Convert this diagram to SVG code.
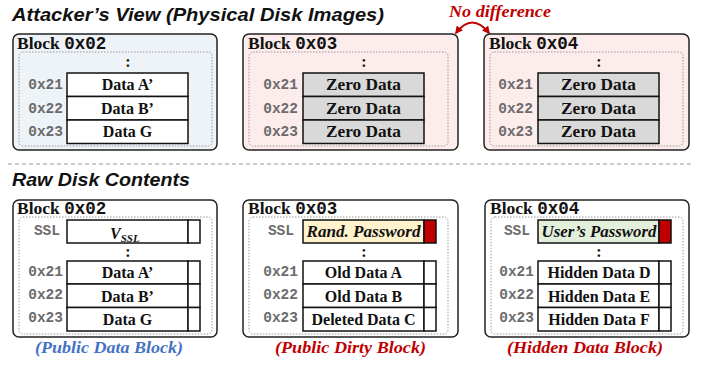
<svg xmlns="http://www.w3.org/2000/svg" width="701" height="371" viewBox="0 0 701 371">
<style>
.title{font-family:"Liberation Sans","Open Sans",sans-serif;font-weight:bold;font-style:italic;font-size:19px;fill:#111}
.outer{stroke:#222;stroke-width:1.5}
.inner{fill:none;stroke:#999;stroke-width:1;stroke-dasharray:1.5 1.5}
.blk{font-family:"Liberation Serif",serif;font-weight:bold;font-size:17.5px;fill:#111}
.mono{font-family:"Liberation Mono","DejaVu Sans Mono",monospace;font-weight:bold}
.lbl{font-family:"Liberation Mono","DejaVu Sans Mono",monospace;font-weight:bold;font-size:14.5px;fill:#6b6b6b;text-anchor:end}
.row{fill:#fff;stroke:#111;stroke-width:1.5}
.zero{fill:#d9d9d9;stroke:#111;stroke-width:1.5}
.dt{font-family:"Liberation Serif",serif;font-weight:bold;font-size:16px;fill:#111;text-anchor:middle}
.it{font-style:italic}
.col{font-family:"Liberation Serif",serif;font-weight:bold;font-size:16px;fill:#111;text-anchor:middle}
.cap{font-family:"Liberation Serif",serif;font-weight:bold;font-style:italic;font-size:17px;text-anchor:middle}
.red{fill:#c00000}
</style>
<defs>
<marker id="ah" viewBox="0 0 10 10" refX="8" refY="5" markerWidth="4" markerHeight="4" orient="auto-start-reverse">
<path d="M0,0 L10,5 L0,10 z" fill="#c00000"/>
</marker>
</defs>

<text class="title" x="12" y="21" textLength="372" lengthAdjust="spacingAndGlyphs">Attacker’s View (Physical Disk Images)</text>
<text x="500" y="17" class="cap red" textLength="102" lengthAdjust="spacingAndGlyphs">No difference</text>

<g id="connectors">
<path d="M456,33 Q472,12 489,33" fill="none" stroke="#c00000" stroke-width="2" marker-start="url(#ah)" marker-end="url(#ah)"/>
</g>

<g id="top-block-02">
<rect class="outer" x="13" y="34" width="204" height="116" rx="6" fill="#eef3f8"/>
<rect class="inner" x="19" y="52" width="193" height="94" rx="4"/>
<text class="blk" x="17" y="49">Block <tspan class="mono">0x02</tspan></text>
<text class="col" x="128" y="67">:</text>
<rect class="row" x="67" y="73" width="121" height="23.5"/>
<rect class="row" x="67" y="96.5" width="121" height="23.5"/>
<rect class="row" x="67" y="120" width="121" height="23.5"/>
<text class="lbl" x="63" y="89">0x21</text>
<text class="lbl" x="63" y="112.5">0x22</text>
<text class="lbl" x="63" y="136">0x23</text>
<text class="dt" x="127.5" y="90">Data A’</text>
<text class="dt" x="127.5" y="113.5">Data B’</text>
<text class="dt" x="127.5" y="137">Data G</text>
</g>

<g id="top-block-03">
<rect class="outer" x="243" y="34" width="215" height="116" rx="6" fill="#fdecec"/>
<rect class="inner" x="249" y="52" width="199" height="94" rx="4"/>
<text class="blk" x="248" y="49">Block <tspan class="mono">0x03</tspan></text>
<text class="col" x="364" y="67">:</text>
<rect class="zero" x="303" y="73" width="121" height="23.5"/>
<rect class="zero" x="303" y="96.5" width="121" height="23.5"/>
<rect class="zero" x="303" y="120" width="121" height="23.5"/>
<text class="lbl" x="298" y="89">0x21</text>
<text class="lbl" x="298" y="112.5">0x22</text>
<text class="lbl" x="298" y="136">0x23</text>
<text class="dt" x="363.5" y="90" textLength="75" lengthAdjust="spacingAndGlyphs">Zero Data</text>
<text class="dt" x="363.5" y="113.5" textLength="75" lengthAdjust="spacingAndGlyphs">Zero Data</text>
<text class="dt" x="363.5" y="137" textLength="75" lengthAdjust="spacingAndGlyphs">Zero Data</text>
</g>

<g id="top-block-04">
<rect class="outer" x="484" y="34" width="205" height="116" rx="6" fill="#fdecec"/>
<rect class="inner" x="490" y="52" width="193" height="94" rx="4"/>
<text class="blk" x="489" y="49">Block <tspan class="mono">0x04</tspan></text>
<text class="col" x="599" y="67">:</text>
<rect class="zero" x="538" y="73" width="121" height="23.5"/>
<rect class="zero" x="538" y="96.5" width="121" height="23.5"/>
<rect class="zero" x="538" y="120" width="121" height="23.5"/>
<text class="lbl" x="533" y="89">0x21</text>
<text class="lbl" x="533" y="112.5">0x22</text>
<text class="lbl" x="533" y="136">0x23</text>
<text class="dt" x="598.5" y="90" textLength="75" lengthAdjust="spacingAndGlyphs">Zero Data</text>
<text class="dt" x="598.5" y="113.5" textLength="75" lengthAdjust="spacingAndGlyphs">Zero Data</text>
<text class="dt" x="598.5" y="137" textLength="75" lengthAdjust="spacingAndGlyphs">Zero Data</text>
</g>

<line x1="8" y1="164" x2="694" y2="164" stroke="#999" stroke-width="1.2" stroke-dasharray="4 3"/>
<text class="title" x="12" y="186" textLength="178" lengthAdjust="spacingAndGlyphs">Raw Disk Contents</text>

<g id="raw-block-02">
<rect class="outer" x="13" y="200" width="204" height="137" rx="6" fill="#fff"/>
<rect class="inner" x="19" y="217" width="193" height="117" rx="4"/>
<text class="blk" x="17" y="214">Block <tspan class="mono">0x02</tspan></text>
<rect class="row" x="67" y="220" width="121" height="23"/>
<rect class="row" x="188" y="220" width="12" height="23"/>
<text class="lbl" x="60" y="235">SSL</text>
<text x="110" y="239" class="dt it" style="text-anchor:start">V<tspan font-size="11" dy="3">SSL</tspan></text>
<text class="col" x="128" y="257">:</text>
<rect class="row" x="67" y="261" width="121" height="23"/>
<rect class="row" x="188" y="261" width="12" height="23"/>
<rect class="row" x="67" y="284" width="121" height="23.5"/>
<rect class="row" x="188" y="284" width="12" height="23.5"/>
<rect class="row" x="67" y="307.5" width="121" height="23.5"/>
<rect class="row" x="188" y="307.5" width="12" height="23.5"/>
<text class="lbl" x="63" y="276">0x21</text>
<text class="lbl" x="63" y="299">0x22</text>
<text class="lbl" x="63" y="322">0x23</text>
<text class="dt" x="127.5" y="278">Data A’</text>
<text class="dt" x="127.5" y="301.5">Data B’</text>
<text class="dt" x="127.5" y="325">Data G</text>
<text class="cap" x="109" y="353" fill="#4472c4" textLength="148" lengthAdjust="spacingAndGlyphs">(Public Data Block)</text>
</g>

<g id="raw-block-03">
<rect class="outer" x="243" y="200" width="215" height="137" rx="6" fill="#fff"/>
<rect class="inner" x="249" y="217" width="199" height="117" rx="4"/>
<text class="blk" x="248" y="214">Block <tspan class="mono">0x03</tspan></text>
<rect class="row" x="303" y="220" width="121" height="23" style="fill:#fff2cc"/>
<rect class="row" x="424" y="220" width="12" height="23" style="fill:#c00000"/>
<text class="lbl" x="294" y="235">SSL</text>
<text class="dt it" x="363.5" y="237" textLength="114" lengthAdjust="spacingAndGlyphs">Rand. Password</text>
<text class="col" x="364" y="257">:</text>
<rect class="row" x="303" y="261" width="121" height="23"/>
<rect class="row" x="424" y="261" width="12" height="23"/>
<rect class="row" x="303" y="284" width="121" height="23.5"/>
<rect class="row" x="424" y="284" width="12" height="23.5"/>
<rect class="row" x="303" y="307.5" width="121" height="23.5"/>
<rect class="row" x="424" y="307.5" width="12" height="23.5"/>
<text class="lbl" x="298" y="276">0x21</text>
<text class="lbl" x="298" y="299">0x22</text>
<text class="lbl" x="298" y="322">0x23</text>
<text class="dt" x="363.5" y="278">Old Data A</text>
<text class="dt" x="363.5" y="301.5">Old Data B</text>
<text class="dt" x="363.5" y="325">Deleted Data C</text>
<text class="cap red" x="350.5" y="353" textLength="151" lengthAdjust="spacingAndGlyphs">(Public Dirty Block)</text>
</g>

<g id="raw-block-04">
<rect class="outer" x="485" y="200" width="204" height="137" rx="6" fill="#fff"/>
<rect class="inner" x="491" y="217" width="192" height="117" rx="4"/>
<text class="blk" x="490" y="214">Block <tspan class="mono">0x04</tspan></text>
<rect class="row" x="538" y="220" width="121" height="23" style="fill:#e2efda"/>
<rect class="row" x="659" y="220" width="12" height="23" style="fill:#c00000"/>
<text class="lbl" x="530" y="235">SSL</text>
<text class="dt it" x="599" y="237" textLength="115" lengthAdjust="spacingAndGlyphs">User’s Password</text>
<text class="col" x="599" y="257">:</text>
<rect class="row" x="538" y="261" width="121" height="23"/>
<rect class="row" x="659" y="261" width="12" height="23"/>
<rect class="row" x="538" y="284" width="121" height="23.5"/>
<rect class="row" x="659" y="284" width="12" height="23.5"/>
<rect class="row" x="538" y="307.5" width="121" height="23.5"/>
<rect class="row" x="659" y="307.5" width="12" height="23.5"/>
<text class="lbl" x="534" y="276">0x21</text>
<text class="lbl" x="534" y="299">0x22</text>
<text class="lbl" x="534" y="322">0x23</text>
<text class="dt" x="599" y="278">Hidden Data D</text>
<text class="dt" x="599" y="301.5">Hidden Data E</text>
<text class="dt" x="599" y="325">Hidden Data F</text>
<text class="cap red" x="585" y="353" textLength="156" lengthAdjust="spacingAndGlyphs">(Hidden Data Block)</text>
</g>
</svg>
